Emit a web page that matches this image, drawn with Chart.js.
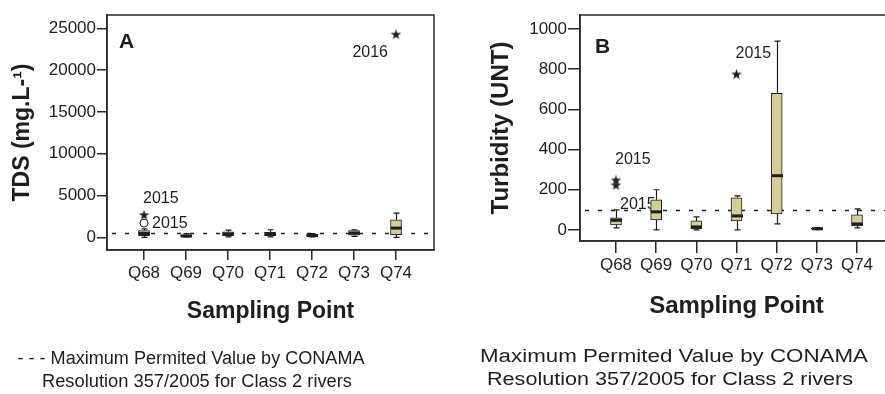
<!DOCTYPE html>
<html>
<head>
<meta charset="utf-8">
<script src="https://cdn.jsdelivr.net/npm/chart.js@4.4.1/dist/chart.umd.min.js"></script>
<style>
  html, body { margin: 0; padding: 0; background: #fff; overflow: hidden; }
  #wrap { position: relative; width: 885px; height: 394px; overflow: hidden; }
  #tds  { position: absolute; left: 0; top: 0; }
  #turb { position: absolute; left: 440px; top: 0; }
</style>
</head>
<body>
<div id="wrap">
  <canvas id="tds" width="440" height="394"></canvas>
  <canvas id="turb" width="470" height="394"></canvas>
</div>
<script>
const samplingPoints = ['Q68', 'Q69', 'Q70', 'Q71', 'Q72', 'Q73', 'Q74'];

// Total dissolved solids (mg/L): five-number summary per sampling point
const tdsMin    = [0,    50,  50,  50,  50,  100, 0];
const tdsQ1     = [200,  100, 200, 200, 100, 250, 300];
const tdsMedian = [450,  150, 400, 350, 200, 500, 1100];
const tdsQ3     = [800,  300, 650, 600, 350, 800, 2100];
const tdsMax    = [1000, 450, 850, 900, 450, 900, 2900];
const tdsOutlierAt    = [0, 0, 6];
const tdsOutlierValue = [1700, 2700, 24300];
const tdsOutlierMark  = ['circle', 'star', 'star'];
const tdsOutlierYear  = ['2015', '2015', '2016'];
const tdsTicks = [0, 5000, 10000, 15000, 20000, 25000];
const tdsLimit = 500;

// Turbidity (UNT): five-number summary per sampling point
const turbMin    = [10,  0,   0,  0,   30,  2,  10];
const turbQ1     = [25,  50,  5,  45,  80,  4,  20];
const turbMedian = [48,  90,  15, 70,  270, 6,  30];
const turbQ3     = [60,  150, 45, 160, 680, 9,  75];
const turbMax    = [100, 200, 65, 170, 940, 12, 105];
const turbOutlierAt    = [0, 0, 3];
const turbOutlierValue = [249, 224, 776];
const turbOutlierMark  = ['star', 'star', 'star'];
const turbOutlierYear  = ['2015', '2015', '2015'];
const turbTicks = [0, 200, 400, 600, 800, 1000];
const turbLimit = 100;

const legendLines = ['Maximum Permited Value by CONAMA', 'Resolution 357/2005 for Class 2 rivers'];

const INK = '#1e1e1e';
const BOX_FILL = '#d3ce97';
const SANS = '"Liberation Sans", Arial, sans-serif';
const TICK_FONT = { family: SANS, size: 17 };

function makeStar(size) {
  const c = document.createElement('canvas');
  c.width = c.height = size;
  const g = c.getContext('2d');
  g.fillStyle = INK;
  g.beginPath();
  for (let k = 0; k < 10; k++) {
    const r = k % 2 ? size * 0.2 : size * 0.5;
    const a = -Math.PI / 2 + k * Math.PI / 5;
    g.lineTo(size / 2 + r * Math.cos(a), size / 2 + r * Math.sin(a) + 0.5);
  }
  g.closePath();
  g.fill();
  return c;
}
const starMark = makeStar(11);

// Draw text squeezed/stretched horizontally to a given width, centred on cx
function fittedText(ctx, text, cx, baseline, width, font) {
  ctx.save();
  ctx.font = font;
  const w = ctx.measureText(text).width;
  ctx.translate(cx, baseline);
  ctx.scale(width / w, 1);
  ctx.textAlign = 'center';
  ctx.textBaseline = 'alphabetic';
  ctx.fillText(text, 0, 0);
  ctx.restore();
}

function boxPlotPlugin(cfg) {
  return {
    id: 'boxplot',
    beforeDatasetsDraw(chart) {
      const { ctx, chartArea: a, scales: { x, y } } = chart;
      // dashed limit line
      ctx.save();
      ctx.strokeStyle = INK;
      ctx.lineWidth = 1.4;
      ctx.setLineDash([4, 9]);
      const yl = Math.round(y.getPixelForValue(cfg.limit)) + 0.5;
      ctx.beginPath();
      ctx.moveTo(a.left + 5, yl);
      ctx.lineTo(a.right, yl);
      ctx.stroke();
      ctx.restore();
      // outlier year labels
      ctx.save();
      ctx.fillStyle = INK;
      ctx.font = '16px ' + SANS;
      ctx.textBaseline = 'middle';
      cfg.outAt.forEach((i, k) => {
        const px = x.getPixelForValue(i);
        const py = y.getPixelForValue(cfg.outVal[k]);
        const side = cfg.labelSide[k];
        let tx = px, ty = py;
        ctx.textAlign = 'left';
        if (side === 'above') { tx = px - 1; ty = py - cfg.gap; }
        else if (side === 'below') { tx = px + 4; ty = py + cfg.gap; }
        else if (side === 'right') { tx = px + 8; ty = py + 1; }
        else if (side === 'belowLeft') { ctx.textAlign = 'right'; tx = px - 8; ty = py + cfg.gap + 2; }
        ctx.fillText(cfg.outYear[k], tx, ty);
      });
      ctx.restore();
    },
    afterDatasetsDraw(chart) {
      const { ctx, scales: { x, y } } = chart;
      ctx.save();
      ctx.strokeStyle = INK;
      samplingPoints.forEach((_, i) => {
        const cx = Math.round(x.getPixelForValue(i)) + 0.5;
        const yMin = y.getPixelForValue(cfg.min[i]);
        const yQ1 = y.getPixelForValue(cfg.q1[i]);
        const yQ3 = y.getPixelForValue(cfg.q3[i]);
        const yMax = y.getPixelForValue(cfg.max[i]);
        const yMed = y.getPixelForValue(cfg.med[i]);
        ctx.lineWidth = 1.2;
        ctx.beginPath();
        ctx.moveTo(cx, yQ3); ctx.lineTo(cx, yMax);
        ctx.moveTo(cx, yQ1); ctx.lineTo(cx, yMin);
        ctx.moveTo(cx - cfg.cap, yMax); ctx.lineTo(cx + cfg.cap, yMax);
        ctx.moveTo(cx - cfg.cap, yMin); ctx.lineTo(cx + cfg.cap, yMin);
        ctx.stroke();
        ctx.lineWidth = 3;
        ctx.beginPath();
        ctx.moveTo(cx - cfg.boxW / 2, yMed); ctx.lineTo(cx + cfg.boxW / 2, yMed);
        ctx.stroke();
      });
      ctx.restore();
    },
    afterDraw(chart) {
      const { ctx, chartArea: a } = chart;
      ctx.save();
      ctx.strokeStyle = '#2a2a2a';
      ctx.lineWidth = 1.5;
      ctx.strokeRect(a.left, a.top, a.right - a.left, a.bottom - a.top);
      // panel letter
      ctx.fillStyle = INK;
      ctx.font = 'bold 21px ' + SANS;
      ctx.textAlign = 'left';
      ctx.textBaseline = 'alphabetic';
      ctx.fillText(cfg.letter, a.left + cfg.letterDx, a.top + cfg.letterDy);
      // note under the panel
      cfg.note.forEach(n => fittedText(ctx, n.text, n.cx, n.base, n.width, n.font));
      ctx.restore();
    }
  };
}

function makeChart(id, cfg) {
  const boxes = samplingPoints.map((_, i) => ({ x: i, y: [cfg.q1[i], cfg.q3[i]] }));
  const outliers = cfg.outAt.map((i, k) => ({ x: i, y: cfg.outVal[k] }));
  const titleFont = { family: SANS, size: cfg.titleSize, weight: 'bold' };
  return new Chart(document.getElementById(id), {
    type: 'bar',
    data: {
      datasets: [
        {
          type: 'bar',
          data: boxes,
          backgroundColor: BOX_FILL,
          borderColor: INK,
          borderWidth: 1,
          borderSkipped: false,
          barThickness: cfg.boxW
        },
        {
          type: 'scatter',
          data: outliers,
          pointStyle: cfg.outMark.map(m => m === 'star' ? starMark : 'circle'),
          pointRadius: 4,
          pointBorderWidth: 1,
          pointBorderColor: INK,
          pointBackgroundColor: 'rgba(0,0,0,0)'
        }
      ]
    },
    options: {
      responsive: false,
      animation: false,
      events: [],
      layout: { padding: { left: 0, top: 15, right: cfg.padRight, bottom: 0 } },
      plugins: { legend: { display: false }, tooltip: { enabled: false } },
      scales: {
        x: {
          type: 'linear',
          offset: false,
          min: cfg.xMin, max: cfg.xMax,
          afterBuildTicks: s => { s.ticks = samplingPoints.map((_, i) => ({ value: i })); },
          afterFit: s => { s.height = cfg.xHeight; },
          ticks: { callback: v => samplingPoints[v], font: TICK_FONT, color: INK, padding: cfg.xTickPad, maxRotation: 0, autoSkip: false },
          grid: { offset: false, drawOnChartArea: false, drawTicks: true, tickLength: cfg.tickLen, color: '#2a2a2a', lineWidth: 1.5 },
          border: { display: true, color: '#2a2a2a', width: 1.5 },
          title: { display: true, text: 'Sampling Point', font: titleFont, color: INK, padding: { top: 0, bottom: cfg.xTitlePad } }
        },
        y: {
          type: 'linear',
          min: cfg.yMin, max: cfg.yMax,
          afterBuildTicks: s => { s.ticks = cfg.ticks.map(v => ({ value: v })); },
          afterFit: s => { s.width = cfg.yWidth; },
          ticks: { callback: v => String(v), font: TICK_FONT, color: INK, padding: 1 },
          grid: { drawOnChartArea: false, drawTicks: true, tickLength: cfg.tickLen, color: '#2a2a2a', lineWidth: 1.5 },
          border: { display: true, color: '#2a2a2a', width: 1.5 },
          title: { display: true, text: cfg.yTitle, font: titleFont, color: INK, padding: { top: cfg.yTitlePad, bottom: 0 } }
        }
      }
    },
    plugins: [boxPlotPlugin(cfg)]
  });
}

const noteFont = '18px ' + SANS;

makeChart('tds', {
  min: tdsMin, q1: tdsQ1, med: tdsMedian, q3: tdsQ3, max: tdsMax,
  outAt: tdsOutlierAt, outVal: tdsOutlierValue, outMark: tdsOutlierMark, outYear: tdsOutlierYear,
  labelSide: ['right', 'above', 'belowLeft'], gap: 16,
  ticks: tdsTicks, limit: tdsLimit,
  yMin: -1520, yMax: 26590, xMin: -0.881, xMax: 6.905,
  yWidth: 107, xHeight: 144, padRight: 6, tickLen: 10, xTickPad: 3,
  titleSize: 23, xTitlePad: 69, yTitlePad: 9,
  boxW: 11, cap: 3,
  yTitle: 'TDS (mg.L-\u00B9)',
  letter: 'A', letterDx: 12, letterDy: 33,
  note: [
    { text: '- - - ' + legendLines[0], cx: 191, base: 364, width: 347, font: noteFont },
    { text: legendLines[1], cx: 197, base: 387, width: 310, font: noteFont }
  ]
});

makeChart('turb', {
  min: turbMin, q1: turbQ1, med: turbMedian, q3: turbQ3, max: turbMax,
  outAt: turbOutlierAt, outVal: turbOutlierValue, outMark: turbOutlierMark, outYear: turbOutlierYear,
  labelSide: ['above', 'below', 'above'], gap: 20,
  ticks: turbTicks, limit: turbLimit,
  yMin: -55, yMax: 1070, xMin: -0.896, xMax: 6.896,
  yWidth: 140, xHeight: 153, padRight: 17, tickLen: 12, xTickPad: 2,
  titleSize: 24, xTitlePad: 73, yTitlePad: 47,
  boxW: 11, cap: 3,
  yTitle: 'Turbidity (UNT)',
  letter: 'B', letterDx: 15, letterDy: 38,
  note: [
    { text: legendLines[0], cx: 234, base: 362, width: 388, font: noteFont },
    { text: legendLines[1], cx: 230, base: 385, width: 366, font: noteFont }
  ]
});
</script>
</body>
</html>
